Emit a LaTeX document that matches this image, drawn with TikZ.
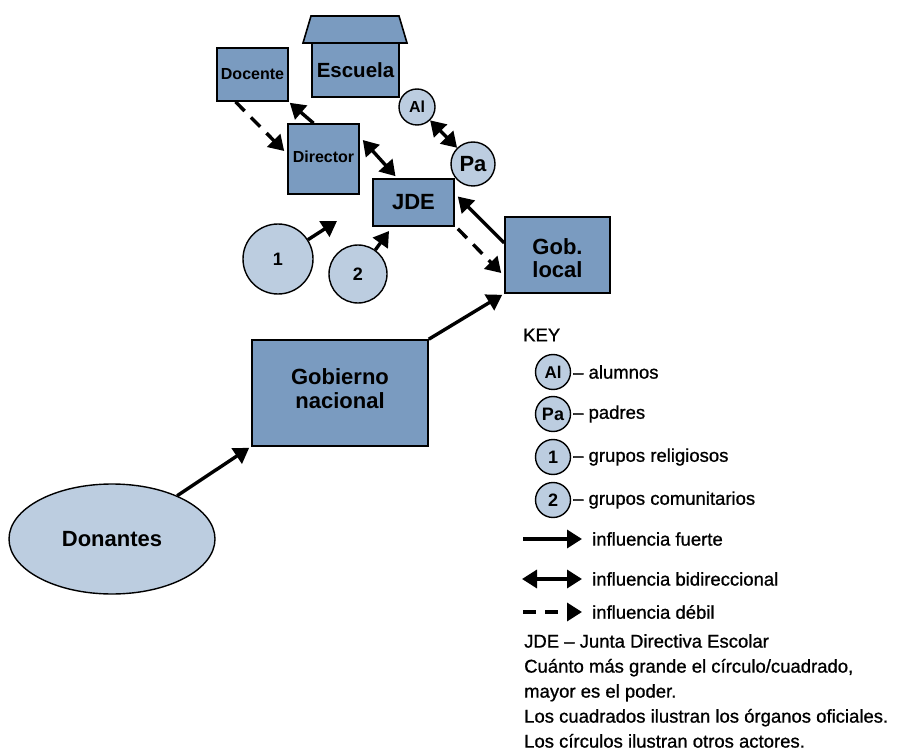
\documentclass[tikz,border=0pt]{standalone}
\usepackage{fontspec}
\setmainfont{Liberation Sans}
\newfontfamily\medfont{Liberation Sans}[FakeBold=0.9]
\usetikzlibrary{arrows.meta,shapes.geometric}
\definecolor{boxblue}{RGB}{122,155,192}
\definecolor{circblue}{RGB}{188,205,224}
\newcommand{\fs}[1]{\fontsize{#1}{1.1\dimexpr #1pt\relax}\selectfont}

\begin{document}
\begin{tikzpicture}[x=1pt,y=-1pt,
  organ/.style={draw=black,line width=1.6pt,fill=boxblue,rectangle,inner sep=0pt,align=center,font=\bfseries},
  actor/.style={draw=black,line width=1.4pt,fill=circblue,circle,inner sep=0pt,font=\bfseries},
  tip/.tip={Triangle[length=15pt,width=18pt]},
  strong/.style={line width=3.4pt,-tip},
  both/.style={line width=3.4pt,tip-tip},
  weak/.style={strong,dash pattern=on 13pt off 9pt},
  keytext/.style={anchor=west,inner sep=0pt,font=\medfont\fontsize{18.5}{22}\selectfont}
]
\useasboundingbox (0,0) rectangle (910,751);

% school building: roof and body
\draw[line width=1.6pt,fill=boxblue] (303,43) -- (311,16) -- (399,16) -- (407,43) -- cycle;
\node[organ,minimum width=87pt,minimum height=54pt,font=\bfseries\fs{20.5}] (esc) at (355.5,70) {Escuela};

% official bodies
\node[organ,minimum width=71pt,minimum height=53pt,font=\bfseries\fs{16}] (doc) at (252.5,74.5) {Docente};
\node[organ,minimum width=71pt,minimum height=70pt,font=\bfseries\fs{16}] (dir) at (323.5,159) {\raisebox{4pt}{Director}};
\node[organ,minimum width=81pt,minimum height=47pt,font=\bfseries\fs{22}] (jde) at (413.5,202.5) {JDE};
\node[organ,minimum width=105pt,minimum height=76pt,
      label={[yshift=-3pt,align=center,font=\fontsize{22}{23}\bfseries\selectfont]center:Gob.\\local}] (gl) at (557.5,255) {};
\node[organ,minimum width=176pt,minimum height=106pt,
      label={[yshift=4pt,align=center,font=\fontsize{22}{24}\bfseries\selectfont]center:Gobierno\\nacional}] (gn) at (340,393) {};

% other actors
\node[actor,minimum size=36pt,font=\bfseries\fs{16}] (al) at (417,107) {Al};
\node[actor,minimum size=44pt,font=\bfseries\fs{22}] (pa) at (473,164) {Pa};
\node[actor,minimum size=70pt,font=\bfseries\fs{18}] (g1) at (278,259) {1};
\node[actor,minimum size=58pt,font=\bfseries\fs{18}] (g2) at (358,274) {2};
\node[draw=black,line width=1.4pt,fill=circblue,ellipse,minimum width=206pt,minimum height=110pt,inner sep=0pt,font=\bfseries\fs{22}] (don) at (112,539) {Donantes};

% free ends of the group arrows
\coordinate (t1) at (337,221);
\coordinate (t2) at (389,231);

% influences
\draw[strong] ([xshift=-10pt]dir.north) -- ([shift={(1pt,-1pt)}]doc.south east);
\draw[weak] ([xshift=-17pt]doc.south) -- ([shift={(-3pt,8pt)}]dir.west);
\draw[both] ([shift={(3pt,19pt)}]dir.east) -- ([shift={(-18pt,2pt)}]jde.north);
\draw[both] (al) -- (pa);
\draw[strong] ([yshift=12pt]gl.west) -- ([shift={(3pt,6pt)}]jde.east);
\draw[weak] ([shift={(3pt,-2pt)}]jde.south east) -- ([shift={(-3pt,-18pt)}]gl.west);
\draw[strong] (gn.north east) -- ([shift={(-2pt,-1pt)}]gl.south west);
\draw[strong] (don) -- ([shift={(-2pt,-1pt)}]gn.south west);
\draw[strong] (g1) -- (t1);
\draw[strong] (g2) -- (t2);

% key
\node[keytext] (keyhd) at (523,335) {KEY};
\node[actor,minimum size=35pt,font=\bfseries\fs{17}] (kal) at (553,372) {Al};
\node[keytext] (kalt) at (573,372) {– alumnos};
\node[actor,minimum size=35pt,font=\bfseries\fs{18}] (kpa) at (553,414) {Pa};
\node[keytext] (kpat) at (573,414) {– padres};
\node[actor,minimum size=35pt,font=\bfseries\fs{18}] (k1) at (553,457) {1};
\node[keytext] (k1t) at (573,457) {– grupos religiosos};
\node[actor,minimum size=35pt,font=\bfseries\fs{18}] (k2) at (553,500) {2};
\node[keytext] (k2t) at (573,500) {– grupos comunitarios};

\coordinate (ks0) at (523,539); \coordinate (ks1) at (582,539);
\coordinate (kb0) at (522,579); \coordinate (kb1) at (582,579);
\coordinate (kw0) at (523,612); \coordinate (kw1) at (582,612);
\draw[strong] (ks0) -- (ks1);
\draw[both] (kb0) -- (kb1);
\draw[weak] (kw0) -- (kw1);
\node[keytext] (kst) at (592,539) {influencia fuerte};
\node[keytext] (kbt) at (592,579) {influencia bidireccional};
\node[keytext] (kwt) at (592,612) {influencia débil};

\node[anchor=north west,inner sep=0pt,align=left,font=\medfont\fontsize{18.5}{25}\selectfont] (notes) at (524,634)
 {JDE – Junta Directiva Escolar\\
  Cuánto más grande el círculo/cuadrado,\\
  mayor es el poder.\\
  Los cuadrados ilustran los órganos oficiales.\\
  Los círculos ilustran otros actores.};
\end{tikzpicture}
\end{document}
